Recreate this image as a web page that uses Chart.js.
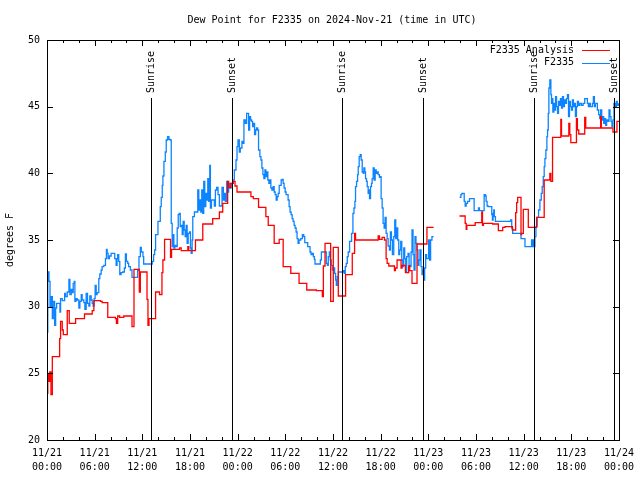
<!DOCTYPE html>
<html>
<head>
<meta charset="utf-8">
<script src="https://cdn.jsdelivr.net/npm/chart.js@4.4.1/dist/chart.umd.min.js"></script>
<style>
  html, body { margin: 0; padding: 0; background: #fff; }
</style>
</head>
<body>
<canvas id="myChart" width="640" height="480"></canvas>
<script>
// hours since 11/21 00:00 UTC
const analysisHours = [0, 0.1, 0.25, 0.35, 0.5, 0.67, 1.59, 1.71, 1.92, 2.05, 2.55, 2.8, 3.6, 4.72, 5.69, 5.9, 6.73, 6.94, 7.65, 8.61, 8.74, 8.9, 9.15, 9.66, 10.7, 10.95, 11.62, 11.75, 12.59, 12.71, 12.84, 13.67, 14.17, 14.47, 14.59, 14.8, 15.55, 15.68, 16.68, 16.89, 17.73, 17.85, 18.69, 19.61, 20.86, 21.7, 22.12, 22.74, 22.87, 23.16, 23.45, 23.67, 23.92, 25.67, 25.97, 26.63, 27.55, 27.85, 28.6, 29.23, 29.73, 30.69, 31.73, 32.7, 33.91, 34.66, 34.79, 35.0, 35.71, 36.04, 36.67, 37.59, 38.43, 38.72, 38.84, 41.69, 41.85, 42.19, 42.48, 42.69, 42.82, 43.03, 43.74, 43.86, 44.07, 44.57, 44.7, 45.12, 45.53, 45.66, 45.95, 46.58, 47.83, 48.67, 49.5, 51.93, 52.64, 52.77, 52.85, 53.9, 54.73, 54.82, 54.94, 56.11, 56.82, 57.37, 57.66, 58.58, 59.0, 59.12, 59.25, 59.67, 59.75, 59.96, 60.59, 61.63, 62.59, 63.3, 63.43, 63.64, 64.68, 64.77, 65.69, 65.81, 65.94, 66.65, 66.77, 66.94, 67.69, 67.82, 69.7, 69.78, 71.25, 71.75, 72];
const analysisDewF = [23.5, 25.0, 24.4, 25.1, 23.4, 26.25, 27.6, 28.9, 28.25, 27.9, 29.7, 28.75, 29.1, 29.45, 29.7, 30.45, 30.4, 30.3, 29.2, 29.1, 28.75, 29.3, 29.2, 29.3, 28.5, 32.8, 31.1, 32.6, 30.55, 28.6, 29.1, 31.1, 30.9, 32.55, 33.5, 35.05, 33.7, 34.3, 34.4, 34.2, 34.5, 34.2, 35.0, 36.2, 36.6, 37.1, 37.75, 39.4, 38.95, 39.25, 39.4, 39.05, 38.6, 38.25, 38.1, 37.45, 36.75, 36.1, 34.75, 35.05, 33.0, 32.5, 31.75, 31.25, 31.2, 30.75, 33.05, 34.75, 30.4, 34.45, 30.8, 32.4, 34.0, 35.5, 35.0, 35.3, 35.05, 35.2, 35.0, 33.6, 33.25, 33.05, 32.7, 32.9, 33.5, 32.9, 33.1, 32.55, 33.05, 32.7, 31.75, 34.7, 35.95, 35.95, null, 36.8, 36.25, 35.8, 36.1, 36.3, 37.1, 36.1, 36.25, 36.2, 35.7, 35.95, 36.0, 35.75, 37.05, 37.8, 38.2, 35.4, 35.5, 37.3, 35.95, 36.7, 39.5, 40.0, 39.4, 42.7, 44.05, 42.8, 43.75, 42.9, 42.3, 44.1, 43.25, 42.95, 44.2, 43.4, 44.25, 43.4, 43.1, 43.9, 43.9];

const stationHours = [0, 0.1, 0.25, 0.38, 0.54, 0.67, 0.79, 0.96, 1.09, 1.21, 1.63, 1.71, 1.92, 2.22, 2.34, 2.55, 2.76, 2.88, 3.05, 3.18, 3.3, 3.43, 3.51, 3.64, 3.8, 4.01, 4.14, 4.31, 4.43, 4.64, 4.77, 4.93, 5.1, 5.27, 5.39, 5.56, 5.69, 5.81, 5.94, 6.06, 6.19, 6.31, 6.52, 6.65, 6.82, 6.94, 7.15, 7.36, 7.48, 7.57, 7.69, 7.86, 8.07, 8.4, 8.53, 8.7, 8.82, 8.9, 9.03, 9.16, 9.32, 9.53, 9.74, 9.87, 9.99, 10.16, 10.28, 10.49, 10.7, 11.41, 11.58, 11.75, 11.87, 12.08, 12.17, 13.25, 13.42, 13.55, 13.67, 13.97, 14.26, 14.38, 14.51, 14.59, 14.72, 14.89, 15.01, 15.18, 15.35, 15.51, 15.64, 15.76, 15.85, 15.97, 16.1, 16.27, 16.39, 16.52, 16.64, 16.77, 16.89, 17.02, 17.14, 17.27, 17.39, 17.52, 17.64, 17.77, 17.94, 18.06, 18.15, 18.27, 18.35, 18.56, 18.98, 19.11, 19.23, 19.36, 19.48, 19.61, 19.73, 19.86, 19.99, 20.11, 20.24, 20.36, 20.49, 20.57, 20.7, 21.07, 21.2, 21.36, 21.53, 21.7, 22.03, 22.2, 22.33, 22.45, 22.62, 22.74, 22.87, 23.04, 23.16, 23.37, 23.58, 23.79, 23.92, 24.04, 24.21, 24.33, 24.54, 24.67, 24.79, 24.96, 25.13, 25.25, 25.38, 25.51, 25.63, 25.76, 25.88, 26.01, 26.13, 26.26, 26.38, 26.51, 26.63, 26.8, 26.93, 27.05, 27.18, 27.3, 27.43, 27.55, 27.68, 27.8, 27.93, 28.06, 28.18, 28.31, 28.47, 28.6, 28.72, 28.85, 28.98, 29.1, 29.23, 29.48, 29.6, 29.73, 29.85, 29.98, 30.1, 30.35, 30.48, 30.6, 30.73, 30.86, 30.98, 31.11, 31.23, 31.36, 31.48, 31.61, 31.73, 31.94, 32.15, 32.32, 32.45, 32.82, 33.11, 33.24, 33.41, 33.53, 33.66, 33.74, 34.41, 34.54, 35.16, 35.29, 35.41, 35.54, 35.66, 35.79, 35.91, 36.08, 36.21, 36.33, 36.42, 36.54, 36.67, 37.0, 37.29, 37.42, 37.55, 37.67, 37.8, 37.92, 38.09, 38.34, 38.51, 38.64, 38.76, 38.84, 38.97, 39.1, 39.18, 39.3, 39.43, 39.55, 39.68, 39.81, 39.89, 40.01, 40.1, 40.22, 40.31, 40.43, 40.52, 40.6, 40.73, 40.85, 40.93, 41.06, 41.19, 41.31, 41.44, 41.56, 41.69, 41.85, 41.98, 42.06, 42.19, 42.31, 42.44, 42.56, 42.69, 42.82, 42.94, 43.11, 43.23, 43.36, 43.48, 43.65, 43.78, 43.9, 44.03, 44.15, 44.28, 44.4, 44.53, 44.66, 44.78, 44.91, 45.03, 45.16, 45.28, 45.45, 45.58, 45.7, 45.83, 45.95, 46.08, 46.2, 46.33, 46.45, 46.58, 46.7, 46.83, 46.95, 47.08, 47.21, 47.29, 47.41, 47.54, 47.67, 47.79, 47.92, 48.04, 48.17, 48.29, 48.46, 48.67, 49.5, 51.93, 52.1, 52.23, 52.43, 52.52, 52.64, 52.77, 52.94, 53.19, 53.77, 54.32, 54.44, 55.03, 55.19, 55.28, 55.4, 55.53, 55.99, 56.07, 56.16, 56.24, 56.32, 56.45, 58.37, 58.5, 58.62, 59.67, 60.17, 61.0, 61.13, 61.21, 61.3, 61.42, 61.55, 61.71, 61.88, 62.05, 62.22, 62.34, 62.47, 62.59, 62.68, 62.8, 62.93, 63.01, 63.1, 63.18, 63.3, 63.43, 63.51, 63.6, 63.68, 63.81, 63.93, 64.02, 64.14, 64.27, 64.39, 64.52, 64.64, 64.77, 64.89, 65.02, 65.14, 65.27, 65.39, 65.52, 65.65, 65.77, 65.9, 66.02, 66.15, 66.27, 66.4, 66.52, 66.65, 66.77, 66.9, 67.07, 67.28, 67.49, 67.69, 68.03, 68.15, 68.28, 68.4, 68.66, 68.78, 68.91, 69.03, 69.28, 69.45, 69.58, 69.7, 69.83, 69.95, 70.08, 70.2, 70.33, 70.45, 70.62, 70.75, 70.87, 71.0, 71.12, 71.25, 71.37, 71.54, 71.67, 71.79, 71.96];
const stationDewF = [28.1, 32.6, 31.9, 30.0, 30.75, 29.1, 30.4, 28.6, 29.9, 30.25, 29.6, 30.6, 30.45, 31.0, 30.75, 31.1, 32.05, 30.9, 31.3, 31.05, 31.75, 31.9, 30.4, 30.6, 30.5, 29.9, 30.4, 30.9, 30.5, 30.3, 29.8, 31.0, 30.25, 30.05, 30.8, 30.5, 30.25, 30.05, 30.6, 31.6, 30.9, 31.05, 32.1, 32.45, 32.75, 33.0, 33.1, 33.6, 34.3, 34.0, 33.6, 33.8, 34.0, 34.0, 33.6, 33.1, 33.6, 33.9, 33.4, 32.4, 32.55, 32.6, 32.9, 33.95, 33.4, 33.25, 33.0, 32.75, 32.2, 32.7, 33.75, 34.45, 34.1, 33.75, 33.2, 33.4, 33.9, 34.25, 35.4, 36.4, 37.5, 38.2, 39.1, 39.8, 40.9, 41.6, 42.5, 42.75, 42.55, 42.5, 36.25, 34.5, 35.4, 34.4, 34.6, 34.5, 35.9, 36.9, 37.0, 36.0, 36.1, 35.4, 36.4, 35.75, 35.25, 36.1, 34.75, 35.5, 35.6, 34.4, 34.0, 35.0, 36.75, 37.1, 38.75, 37.25, 38.0, 37.1, 38.75, 37.0, 39.4, 37.5, 38.5, 38.0, 39.6, 37.9, 40.6, 37.4, 38.0, 37.55, 38.75, 38.95, 38.4, 37.55, 38.95, 38.0, 38.5, 37.9, 39.4, 38.6, 39.25, 38.9, 39.25, 39.5, 40.25, 41.0, 42.0, 42.5, 41.6, 41.9, 42.4, 42.25, 44.0, 43.75, 44.5, 44.5, 43.25, 44.25, 44.0, 43.9, 43.5, 43.75, 42.9, 43.25, 43.4, 43.25, 41.75, 41.25, 41.0, 40.4, 39.9, 39.6, 40.25, 39.75, 40.1, 39.5, 39.25, 39.5, 38.9, 38.75, 39.0, 38.6, 38.4, 38.0, 38.25, 38.5, 39.1, 39.5, 39.55, 39.25, 38.9, 38.6, 38.4, 38.0, 37.5, 37.1, 36.9, 36.6, 36.4, 36.1, 35.9, 35.6, 35.1, 34.75, 35.0, 35.1, 35.4, 35.25, 34.8, 34.5, 34.1, 33.9, 34.0, 33.75, 33.55, 33.2, 33.5, 34.1, 33.25, 33.1, 33.75, 34.1, 33.5, 33.1, 32.75, 32.9, 32.5, 32.0, 31.6, 32.25, 32.6, 32.6, 32.7, 32.5, 33.0, 33.25, 33.75, 34.1, 34.9, 35.5, 37.0, 37.4, 37.9, 39.0, 39.4, 39.9, 40.5, 41.25, 41.4, 41.0, 40.1, 40.0, 40.4, 40.1, 39.6, 39.4, 39.0, 38.5, 38.75, 38.1, 39.0, 39.25, 39.6, 40.4, 39.5, 40.25, 40.0, 40.1, 39.9, 39.7, 39.75, 38.1, 37.4, 36.25, 35.9, 36.7, 35.5, 35.1, 34.55, 34.25, 35.6, 35.0, 33.9, 35.25, 36.5, 35.1, 35.9, 35.0, 33.9, 34.25, 34.9, 33.5, 33.0, 34.4, 33.6, 32.6, 33.75, 34.0, 33.1, 33.0, 34.1, 35.75, 33.9, 32.75, 35.25, 34.75, 34.25, 33.1, 33.5, 34.25, 33.0, 32.4, 32.75, 32.0, 32.9, 33.9, 33.6, 33.6, 35.0, 33.5, 35.0, 35.25, 35.25, null, 38.2, 38.4, 38.5, 38.5, 37.9, 37.55, 37.75, 37.9, 38.1, 37.2, 37.4, 37.2, 38.4, 38.3, 37.9, 37.55, 37.5, 36.9, 36.5, 37.0, 37.25, 36.75, 36.4, 36.5, 35.9, 35.5, 35.1, 34.5, 35.0, 34.5, 35.0, 34.5, 35.25, 36.0, 36.7, 37.25, 38.0, 38.5, 39.0, 39.75, 40.5, 41.1, 41.75, 42.75, 43.25, 44.5, 46.4, 47.0, 45.9, 45.25, 45.6, 44.6, 45.25, 44.75, 45.75, 45.0, 44.5, 45.4, 45.1, 45.6, 44.9, 45.75, 45.0, 45.5, 45.25, 45.6, 45.9, 44.25, 45.4, 45.0, 44.75, 45.5, 45.0, 45.25, 44.25, 45.0, 45.4, 45.1, 45.25, 45.1, 45.25, 45.6, 45.25, 45.0, 45.25, 45.0, 45.25, 45.75, 45.0, 45.25, 44.75, 44.4, 44.1, 44.75, 44.0, 44.25, 43.75, 44.1, 43.6, 44.0, 43.9, 44.75, 44.25, 43.9, 43.5, 44.0, 45.25, 45.0, 45.4, 45.1, 45.25];

const sunHours = [13.13, 23.25, 37.17, 47.33, 61.3, 71.33];
const sunLabels = ['Sunrise', 'Sunset', 'Sunrise', 'Sunset', 'Sunrise', 'Sunset'];

const xTickLabels = [
  ['11/21', '00:00'], ['11/21', '06:00'], ['11/21', '12:00'], ['11/21', '18:00'],
  ['11/22', '00:00'], ['11/22', '06:00'], ['11/22', '12:00'], ['11/22', '18:00'],
  ['11/23', '00:00'], ['11/23', '06:00'], ['11/23', '12:00'], ['11/23', '18:00'],
  ['11/24', '00:00'],
];

const titleText = 'Dew Point for F2335 on 2024-Nov-21 (time in UTC)';
const FONT = "'DejaVu Sans Mono', monospace";

const toPoints = (hours, vals) => hours.map((h, i) => ({ x: h, y: vals[i] }));

// frame, inward ticks, sun markers, legend and title (gnuplot look)
const gnuplotFrame = {
  id: 'gnuplotFrame',
  afterDatasetsDraw(chart) {
    const { ctx, chartArea: a, scales } = chart;
    const xs = scales.x, ys = scales.y;
    ctx.save();
    ctx.strokeStyle = '#000';
    ctx.lineWidth = 1;

    // sun lines
    ctx.font = '10px ' + FONT;
    ctx.fillStyle = '#000';
    sunHours.forEach((h, i) => {
      const px = Math.round(xs.getPixelForValue(h)) + 0.5;
      ctx.beginPath();
      ctx.moveTo(px, 98);
      ctx.lineTo(px, a.bottom);
      ctx.stroke();
      ctx.save();
      ctx.translate(px, 93);
      ctx.rotate(-Math.PI / 2);
      ctx.textAlign = 'left';
      ctx.textBaseline = 'middle';
      ctx.fillText(sunLabels[i], 0, 0);
      ctx.restore();
    });

    // border
    ctx.strokeRect(Math.round(a.left) + 0.5, Math.round(a.top) + 0.5,
      Math.round(a.right - a.left), Math.round(a.bottom - a.top));

    // x ticks every 2 h
    for (let h = 0; h <= 72; h += 2) {
      const px = Math.round(xs.getPixelForValue(h)) + 0.5;
      const len = h % 6 === 0 ? 6 : 3;
      ctx.beginPath();
      ctx.moveTo(px, a.bottom); ctx.lineTo(px, a.bottom - len);
      ctx.moveTo(px, a.top); ctx.lineTo(px, a.top + len);
      ctx.stroke();
    }
    // y ticks
    for (let v = 20; v <= 50; v += 5) {
      const py = Math.round(ys.getPixelForValue(v)) + 0.5;
      ctx.beginPath();
      ctx.moveTo(a.left, py); ctx.lineTo(a.left + 6, py);
      ctx.moveTo(a.right, py); ctx.lineTo(a.right - 6, py);
      ctx.stroke();
    }

    // legend
    ctx.textAlign = 'right';
    ctx.textBaseline = 'middle';
    chart.data.datasets.forEach((ds, i) => {
      const y = 50 + i * 12.5;
      ctx.fillStyle = '#000';
      ctx.fillText(ds.label, 574, y);
      ctx.strokeStyle = ds.borderColor;
      ctx.beginPath();
      ctx.moveTo(582, Math.round(y) + 0.5);
      ctx.lineTo(610, Math.round(y) + 0.5);
      ctx.stroke();
    });

    // title
    ctx.fillStyle = '#000';
    ctx.textAlign = 'center';
    ctx.fillText(titleText, 332, 20);
    ctx.restore();
  },
};

const ctx = document.getElementById('myChart').getContext('2d');
const myChart = new Chart(ctx, {
  type: 'line',
  data: {
    datasets: [
      {
        label: 'F2335 Analysis',
        data: toPoints(analysisHours, analysisDewF),
        borderColor: '#ff0000',
        borderWidth: 1.3,
        pointRadius: 0,
        stepped: 'before',
        spanGaps: false,
      },
      {
        label: 'F2335',
        data: toPoints(stationHours, stationDewF),
        borderColor: '#0c84ff',
        borderWidth: 1.3,
        pointRadius: 0,
        stepped: 'before',
        spanGaps: false,
      },
    ],
  },
  options: {
    responsive: false,
    animation: false,
    layout: { padding: { top: 40, right: 19, left: 0, bottom: 0 } },
    plugins: {
      legend: { display: false },
      title: { display: false },
      tooltip: { enabled: false },
    },
    scales: {
      x: {
        type: 'linear',
        min: 0,
        max: 72,
        grid: { display: false, drawTicks: false, tickLength: 0 },
        border: { display: false },
        ticks: {
          stepSize: 6,
          autoSkip: false,
          maxRotation: 0,
          padding: 6,
          color: '#000',
          font: { family: FONT, size: 10, lineHeight: 1.4 },
          callback: (v) => xTickLabels[Math.round(v / 6)],
        },
        afterFit: (scale) => { scale.height = 40; },
      },
      y: {
        min: 20,
        max: 50,
        grid: { display: false, drawTicks: false, tickLength: 0 },
        border: { display: false },
        ticks: {
          stepSize: 5,
          padding: 7,
          color: '#000',
          font: { family: FONT, size: 10 },
        },
        title: {
          display: true,
          text: 'degrees F',
          color: '#000',
          font: { family: FONT, size: 10 },
          padding: { top: 4, bottom: 0 },
        },
        afterFit: (scale) => { scale.width = 47; },
      },
    },
  },
  plugins: [gnuplotFrame],
});
</script>
</body>
</html>
